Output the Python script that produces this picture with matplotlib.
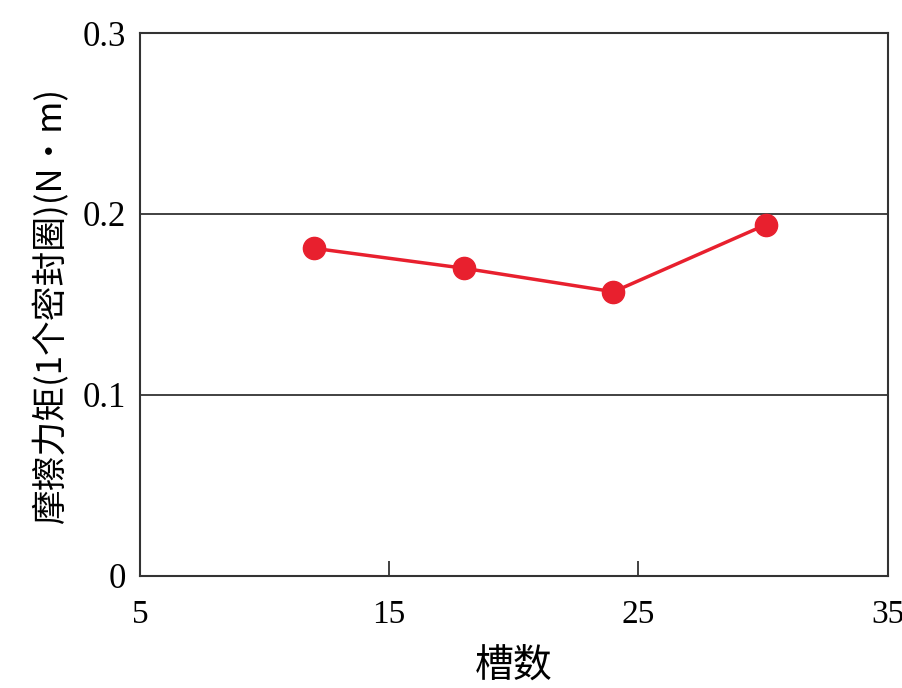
import matplotlib.pyplot as plt

# groove count vs friction torque (per seal ring)
slots = [12, 18, 24, 30.1]
torque = [0.181, 0.170, 0.157, 0.194]
xticks = [5, 15, 25, 35]
yticks = [0, 0.1, 0.2, 0.3]
yticklabels = ["0", "0.1", "0.2", "0.3"]

plt.rcParams['font.family'] = ['Liberation Serif', 'Noto Sans CJK SC', 'DejaVu Sans']

fig = plt.figure(figsize=(9.03, 6.88), dpi=100)
ax = fig.add_axes([0.155, 0.163, 0.828, 0.789])

# horizontal grid lines
for y in yticks[1:3]:
    ax.axhline(y, color='#333333', lw=1.3, zorder=1)

ax.plot(slots, torque, color='#e8202e', lw=2.5, marker='o', markersize=16, zorder=3)

ax.set_xlim(5, 35)
ax.set_ylim(0, 0.3)
ax.set_xticks(xticks)
ax.set_yticks(yticks)
ax.set_yticklabels(yticklabels)

ax.tick_params(axis='x', direction='in', length=11, width=1.3, color='#333333',
               labelsize=24, pad=17)
ax.tick_params(axis='y', length=0, labelsize=25, pad=10)
for s in ax.spines.values():
    s.set_color('#333333')
    s.set_linewidth(1.5)

ax.set_xlabel("槽数", fontsize=28, family=['Noto Sans CJK SC', 'DejaVu Sans'], labelpad=12)
ax.set_ylabel("摩擦力矩(1个密封圈)(N·m)", fontsize=25,
              family=['Noto Sans CJK SC', 'DejaVu Sans'], labelpad=10)

fig.savefig("out.png", dpi=100)
